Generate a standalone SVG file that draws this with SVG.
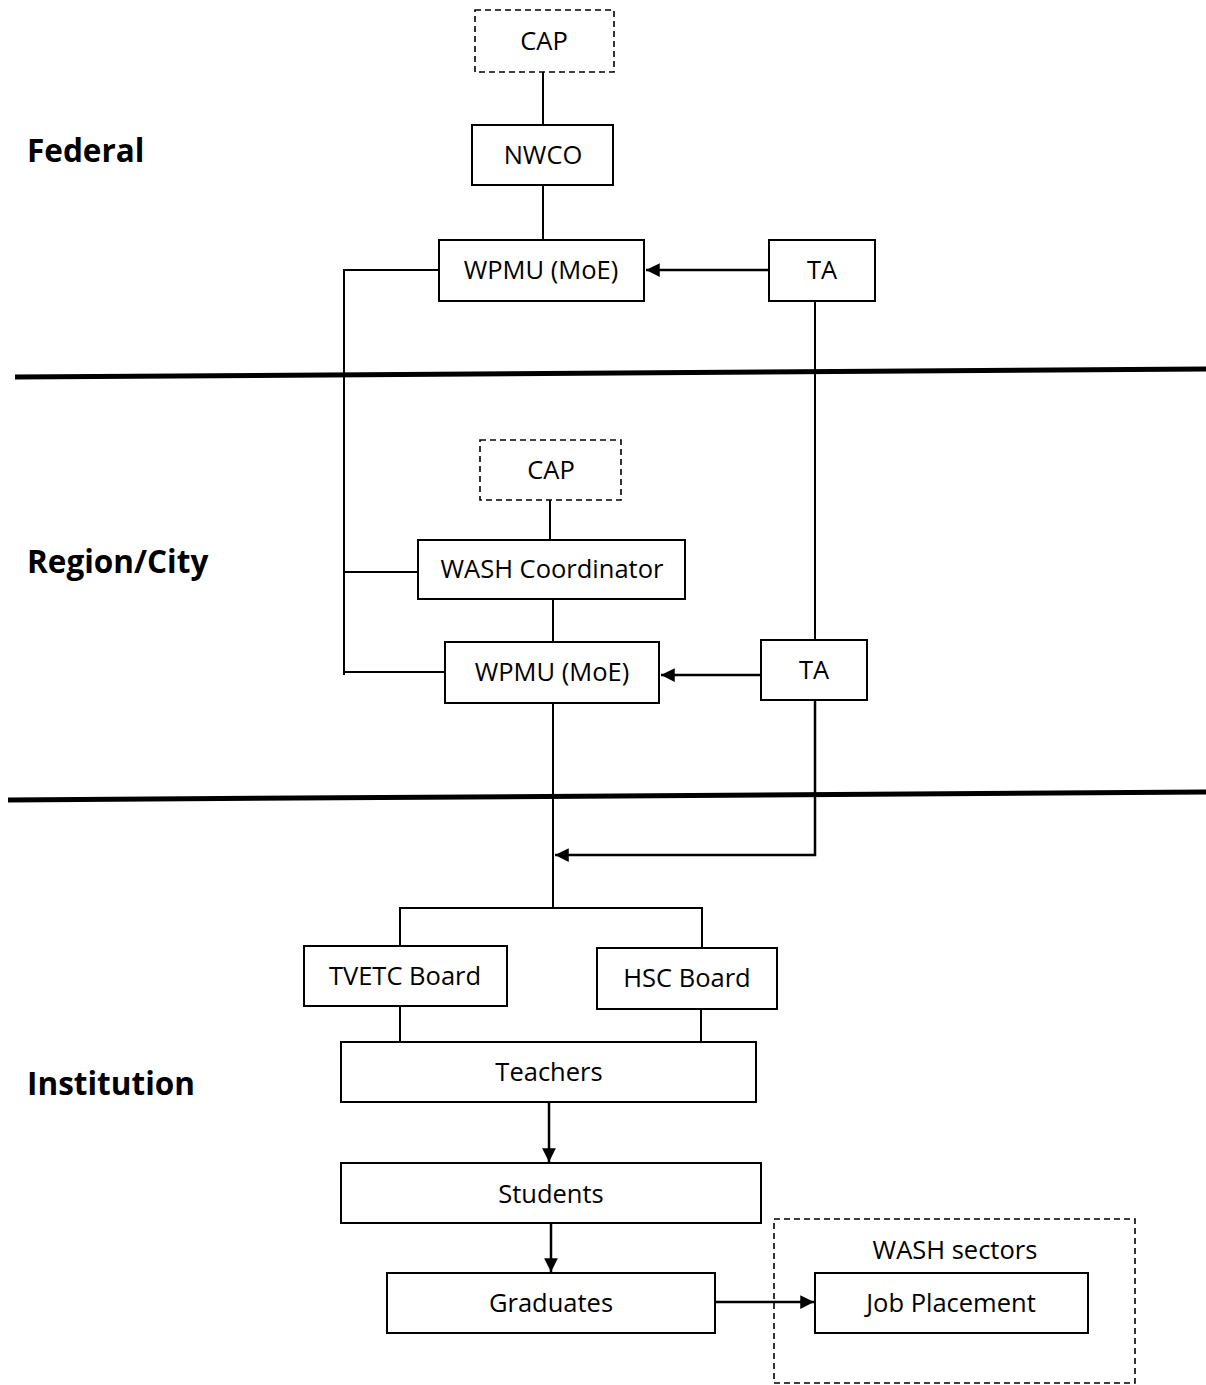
<svg xmlns="http://www.w3.org/2000/svg" width="1206" height="1385" viewBox="0 0 1206 1385">
  <defs>
    <style>
      .box { fill: #fff; stroke: #000; stroke-width: 2; }
      .dash { fill: none; stroke: #000; stroke-width: 1.6; stroke-dasharray: 6 4; }
      .ln { fill: none; stroke: #000; stroke-width: 2; }
      .arr { fill: none; stroke: #000; stroke-width: 2.5; marker-end: url(#head); }
      .div { stroke: #000; stroke-width: 5; }
      .t { font-family: "Open Sans", "Noto Sans", sans-serif; font-size: 25.5px; text-anchor: middle; dominant-baseline: central; fill: #000; }
      .lvl { font-family: "Open Sans", "Noto Sans", sans-serif; font-size: 31.5px; font-weight: bold; fill: #000; }
    </style>
    <marker id="head" viewBox="0 0 10 10" refX="10" refY="5" markerWidth="6" markerHeight="5.5" markerUnits="strokeWidth" orient="auto">
      <path d="M0,0 L10,5 L0,10 z" fill="#000"/>
    </marker>
  </defs>

  <!-- level labels -->
  <text class="lvl" x="27" y="162">Federal</text>
  <text class="lvl" x="27" y="573">Region/City</text>
  <text class="lvl" x="27" y="1095">Institution</text>

  <!-- level dividers -->
  <line class="div" x1="15" y1="377" x2="1206" y2="369"/>
  <line class="div" x1="8" y1="800" x2="1206" y2="792"/>

  <!-- connectors -->
  <g id="connectors">
    <line class="ln" x1="543" y1="72" x2="543" y2="125"/>
    <line class="ln" x1="543" y1="185" x2="543" y2="240"/>
    <line class="arr" x1="769" y1="270" x2="646" y2="270"/>
    <polyline class="ln" points="439,270 344,270 344,675"/>
    <line class="ln" x1="815" y1="301" x2="815" y2="640"/>
    <line class="ln" x1="550" y1="500" x2="550" y2="540"/>
    <line class="ln" x1="344" y1="572" x2="418" y2="572"/>
    <line class="ln" x1="553" y1="599" x2="553" y2="642"/>
    <line class="ln" x1="344" y1="672" x2="445" y2="672"/>
    <line class="arr" x1="761" y1="675" x2="661" y2="675"/>
    <line class="ln" x1="553" y1="703" x2="553" y2="908"/>
    <polyline class="arr" points="815,700 815,855 555,855"/>
    <polyline class="ln" points="400,946 400,908 702,908 702,948"/>
    <line class="ln" x1="400" y1="1006" x2="400" y2="1042"/>
    <line class="ln" x1="701" y1="1009" x2="701" y2="1042"/>
    <line class="arr" x1="549" y1="1102" x2="549" y2="1162"/>
    <line class="arr" x1="551" y1="1223" x2="551" y2="1272"/>
    <line class="arr" x1="715" y1="1302" x2="814" y2="1302"/>
  </g>

  <!-- federal level -->
  <g id="cap-federal">
    <rect class="dash" x="475" y="10" width="139" height="62"/>
    <text class="t" x="544" y="40">CAP</text>
  </g>
  <g id="nwco">
    <rect class="box" x="472" y="125" width="141" height="60"/>
    <text class="t" x="543" y="154">NWCO</text>
  </g>
  <g id="wpmu-federal">
    <rect class="box" x="439" y="240" width="205" height="61"/>
    <text class="t" x="541" y="269">WPMU (MoE)</text>
  </g>
  <g id="ta-federal">
    <rect class="box" x="769" y="240" width="106" height="61"/>
    <text class="t" x="822" y="269">TA</text>
  </g>

  <!-- region / city level -->
  <g id="cap-region">
    <rect class="dash" x="480" y="440" width="141" height="60"/>
    <text class="t" x="551" y="469">CAP</text>
  </g>
  <g id="wash-coordinator">
    <rect class="box" x="418" y="540" width="267" height="59"/>
    <text class="t" x="552" y="568">WASH Coordinator</text>
  </g>
  <g id="wpmu-region">
    <rect class="box" x="445" y="642" width="214" height="61"/>
    <text class="t" x="552" y="671">WPMU (MoE)</text>
  </g>
  <g id="ta-region">
    <rect class="box" x="761" y="640" width="106" height="60"/>
    <text class="t" x="814" y="669">TA</text>
  </g>

  <!-- institution level -->
  <g id="tvetc-board">
    <rect class="box" x="304" y="946" width="203" height="60"/>
    <text class="t" x="405" y="975">TVETC Board</text>
  </g>
  <g id="hsc-board">
    <rect class="box" x="597" y="948" width="180" height="61"/>
    <text class="t" x="687" y="977">HSC Board</text>
  </g>
  <g id="teachers">
    <rect class="box" x="341" y="1042" width="415" height="60"/>
    <text class="t" x="549" y="1071">Teachers</text>
  </g>
  <g id="students">
    <rect class="box" x="341" y="1163" width="420" height="60"/>
    <text class="t" x="551" y="1193">Students</text>
  </g>
  <g id="graduates">
    <rect class="box" x="387" y="1273" width="328" height="60"/>
    <text class="t" x="551" y="1302">Graduates</text>
  </g>
  <g id="wash-sectors">
    <rect class="dash" x="774" y="1219" width="361" height="164"/>
    <text class="t" x="955" y="1249">WASH sectors</text>
  </g>
  <g id="job-placement">
    <rect class="box" x="815" y="1273" width="273" height="60"/>
    <text class="t" x="951" y="1302">Job Placement</text>
  </g>
</svg>
